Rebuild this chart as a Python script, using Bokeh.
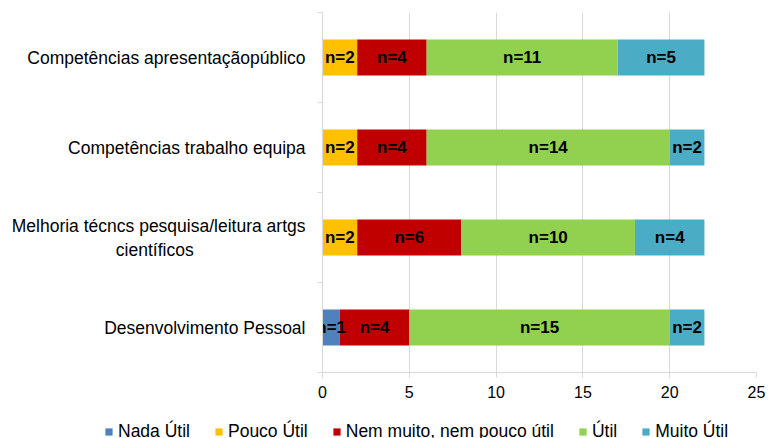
from bokeh.plotting import figure
from bokeh.models import (ColumnDataSource, FixedTicker, Legend, LegendItem, Range1d)
from bokeh.core.properties import value
from bokeh.embed import file_html
from bokeh.resources import INLINE

categories = ["Desenvolvimento Pessoal",
              "Melhoria técncs pesquisa/leitura artgs\ncientíficos" + "\u00a0" * 23,
              "Competências trabalho equipa",
              "Competências apresentaçãopúblico"]
series_names = ["Nada Útil", "Pouco Útil", "Nem muito, nem pouco útil", "Útil", "Muito Útil"]
nada_util = [1, 0, 0, 0]
pouco_util = [0, 2, 2, 2]
nem_muito = [4, 6, 4, 4]
util = [15, 10, 14, 11]
muito_util = [2, 4, 2, 5]
colors = ["#4F81BD", "#FFC000", "#C00000", "#92D050", "#4BACC6"]
x_ticks = [0, 5, 10, 15, 20, 25]

FONT = "Liberation Sans"
keys = ["s0", "s1", "s2", "s3", "s4"]
series = [nada_util, pouco_util, nem_muito, util, muito_util]
ypos = [i + 0.5 for i in range(len(categories))]

data = {"y": ypos}
for k, s in zip(keys, series):
    data[k] = s
source = ColumnDataSource(data)

p = figure(width=768, height=412, output_backend="svg", toolbar_location=None,
           x_range=Range1d(0, 25), y_range=Range1d(0, 4),
           min_border_left=322, min_border_right=12, min_border_top=12,
           min_border_bottom=40)
p.outline_line_color = None
p.background_fill_color = "white"
p.border_fill_color = "white"

renderers = p.hbar_stack(keys, y="y", height=0.4, color=colors, source=source,
                         line_color=None)

# labels
lx, ly, lt = [], [], []
for i in range(len(categories)):
    left = 0
    for s in series:
        v = s[i]
        if v > 0:
            lx.append(left + v / 2)
            ly.append(ypos[i])
            lt.append("n=%d" % v)
        left += v
p.text(x=lx, y=ly, text=lt, text_font=value(FONT), text_font_style="bold",
       text_font_size="17px", text_align="center", text_baseline="middle",
       text_color="black")

# axes
p.xaxis.ticker = FixedTicker(ticks=x_ticks)
p.xaxis.axis_line_color = "#d9d9d9"
p.xaxis.major_tick_line_color = "#d9d9d9"
p.xaxis.major_tick_out = 5
p.xaxis.major_tick_in = 0
p.xaxis.minor_tick_line_color = None
p.xaxis.major_label_text_font = FONT
p.xaxis.major_label_text_font_size = "16px"
p.xaxis.major_label_text_color = "black"
p.xaxis.major_label_standoff = 8

p.yaxis.ticker = FixedTicker(ticks=ypos, minor_ticks=[0, 1, 2, 3, 4])
p.yaxis.major_label_overrides = {y: c for y, c in zip(ypos, categories)}
p.yaxis.axis_line_color = "#d9d9d9"
p.yaxis.major_tick_line_color = None
p.yaxis.major_tick_out = 0
p.yaxis.major_tick_in = 0
p.yaxis.minor_tick_line_color = "#d9d9d9"
p.yaxis.minor_tick_out = 5
p.yaxis.minor_tick_in = 0
p.yaxis.major_label_text_font = FONT
p.yaxis.major_label_text_font_size = "17.5px"
p.yaxis.major_label_text_color = "black"
p.yaxis.major_label_standoff = 12

p.xgrid.ticker = FixedTicker(ticks=x_ticks[1:])
p.xgrid.grid_line_color = "#d9d9d9"
p.ygrid.grid_line_color = None

# legend in its own strip (separate root, so its frame spans the whole width)
pl = figure(width=768, height=26, output_backend="svg", toolbar_location=None,
            x_range=Range1d(0, 1), y_range=Range1d(0, 1),
            min_border_left=0, min_border_right=0, min_border_top=0, min_border_bottom=0)
pl.outline_line_color = None
pl.axis.visible = False
pl.grid.grid_line_color = None
leg_rs = [pl.hbar(y=[0.5], left=[0], right=[0], height=0.01, fill_color=c,
                  line_color=None) for c in colors]
items = [LegendItem(label=n, renderers=[r]) for n, r in zip(series_names, leg_rs)]
legend = Legend(items=items, orientation="horizontal", location=(104, -4),
                glyph_width=9, glyph_height=9, label_standoff=5, spacing=24,
                padding=0, margin=0, label_text_font=FONT, label_text_font_size="17.5px",
                label_text_color="black", background_fill_alpha=0,
                border_line_color=None, label_height=12)
pl.add_layout(legend)

open("out.html", "w").write(file_html([p, pl], INLINE))
